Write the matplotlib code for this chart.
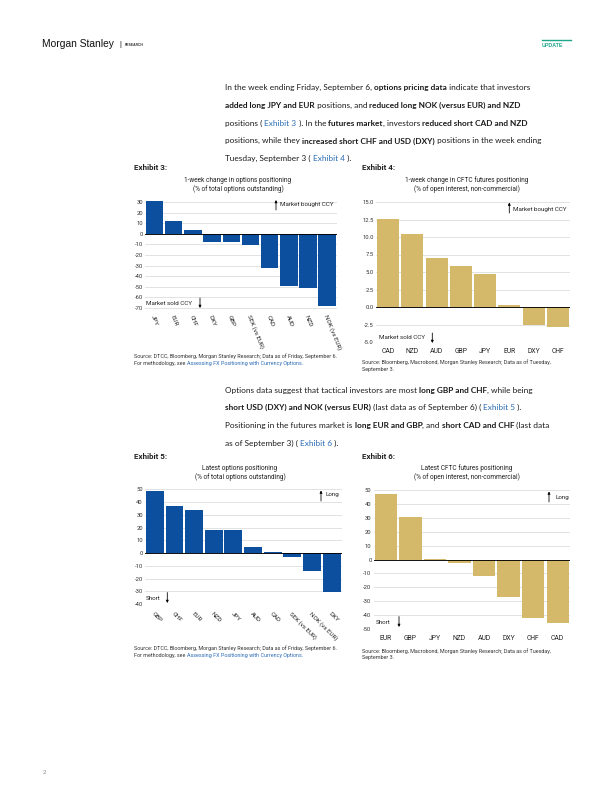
import matplotlib
matplotlib.use('Agg')
import matplotlib.pyplot as plt
from matplotlib.lines import Line2D
from matplotlib.patches import FancyArrowPatch

# ---------------- data ----------------
ex3_cats = ['JPY', 'EUR', 'CHF', 'DXY', 'GBP', 'SEK (vs EUR)', 'CAD', 'AUD', 'NZD', 'NOK (vs EUR)']
ex3_vals = [30.5, 12.3, 3.5, -7.5, -7.5, -10.4, -32.0, -49.0, -51.0, -68.0]
ex3_ticks = [-70, -60, -50, -40, -30, -20, -10, 0, 10, 20, 30]

ex4_cats = ['CAD', 'NZD', 'AUD', 'GBP', 'JPY', 'EUR', 'DXY', 'CHF']
ex4_vals = [12.6, 10.4, 7.0, 5.9, 4.7, 0.33, -2.6, -2.9]
ex4_ticks = [-5.0, -2.5, 0.0, 2.5, 5.0, 7.5, 10.0, 12.5, 15.0]

ex5_cats = ['GBP', 'CHF', 'EUR', 'NZD', 'JPY', 'AUD', 'CAD', 'SEK (vs EUR)', 'NOK (vs EUR)', 'DXY']
ex5_vals = [48.4, 37.2, 34.0, 18.0, 17.8, 4.7, 0.5, -3.4, -14.4, -30.4]
ex5_ticks = [-40, -30, -20, -10, 0, 10, 20, 30, 40, 50]

ex6_cats = ['EUR', 'GBP', 'JPY', 'NZD', 'AUD', 'DXY', 'CHF', 'CAD']
ex6_vals = [46.9, 30.9, 0.5, -2.6, -12.0, -27.0, -42.3, -45.7]
ex6_ticks = [-50, -40, -30, -20, -10, 0, 10, 20, 30, 40, 50]

BLUE = '#0b4f9e'
GOLD = '#d4b96a'
LINK = '#2b6cb5'
TXT = '#1a1a1a'
CHART_FONT = 'Roboto'
BODY_FONT = 'Lato'

TICK_FS = 5.9
CAT_FS = 6.8
CAT_ROT_FS = 6.3
TITLE_FS = 6.5
NOTE_FS = 6.2
SRC_FS = 5.4
EXH_FS = 8.0
BODY_FS = 8.2

W, H = 612, 792
fig = plt.figure(figsize=(W / 72, H / 72), dpi=72)
renderer = fig.canvas.get_renderer()


def fx(x):
    return x / W


def fy(y):
    return 1 - y / H


def text_w(s, **kw):
    t = fig.text(0, 0, '|' + s + '|', **kw)
    w1 = t.get_window_extent(renderer).width
    t.set_text('||')
    w2 = t.get_window_extent(renderer).width
    t.remove()
    return w1 - w2


def rich_line(x, y, segs, size=8, family=BODY_FONT):
    cur = x
    for s, st in segs:
        kw = dict(fontsize=size, family=family)
        if st == 'b':
            kw['fontweight'] = 'bold'
        col = LINK if st == 'l' else TXT
        fig.text(fx(cur), fy(y), s, color=col, va='baseline', ha='left', **kw)
        cur += text_w(s, **kw)


def chart(left, right, top, bottom, ylim, cats, vals, color, ticks, fmt):
    ax = fig.add_axes([fx(left), fy(bottom), (right - left) / W, (bottom - top) / H])
    xs = list(range(len(cats)))
    ax.bar(xs, vals, width=0.91, color=color, zorder=2)
    ax.set_xlim(-0.5, len(cats) - 0.5)
    ax.set_ylim(*ylim)
    ax.set_yticks(ticks)
    ax.set_yticklabels([fmt.format(t) for t in ticks], family=CHART_FONT)
    ax.yaxis.grid(True, color='#cfcfcf', lw=0.6, zorder=0)
    ax.set_axisbelow(True)
    ax.axhline(0, color='black', lw=0.9, zorder=3)
    for s in ax.spines.values():
        s.set_visible(False)
    ax.tick_params(axis='y', length=0, pad=2, labelsize=TICK_FS, labelcolor='#333333')
    ax.set_xticks([])
    ax.patch.set_alpha(0)
    return ax, xs


def cat_labels(ax, xs, cats, top, bottom, ypix, rot):
    yf = (bottom - ypix) / (bottom - top)
    for x, c in zip(xs, cats):
        if rot == 0:
            ax.text(x, yf, c, transform=ax.get_xaxis_transform(), ha='center', va='center',
                    fontsize=CAT_FS, family=CHART_FONT, color='#222222', clip_on=False)
        else:
            ax.text(x - 0.1, yf, c, transform=ax.get_xaxis_transform(), ha='left', va='center',
                    rotation=rot, rotation_mode='anchor', fontsize=CAT_ROT_FS, family=CHART_FONT,
                    color='#222222', clip_on=False)


def arrow(x, y0, y1):
    fig.add_artist(FancyArrowPatch(
        (fx(x), fy(y0)), (fx(x), fy(y1)), transform=fig.transFigure,
        arrowstyle='-|>', mutation_scale=5, lw=0.8, color='black', shrinkA=0, shrinkB=0))


def ftext(x, y, s, size, **kw):
    kw.setdefault('family', CHART_FONT)
    kw.setdefault('color', '#222222')
    kw.setdefault('va', 'center')
    kw.setdefault('ha', 'left')
    fig.text(fx(x), fy(y), s, fontsize=size, **kw)


def source(x, y, lines, link=None):
    for i, ln in enumerate(lines):
        ftext(x, y + i * 7, ln, SRC_FS, color='#333333')
    if link:
        ln = lines[-1]
        ftext(x + text_w(ln, fontsize=SRC_FS, family=CHART_FONT), y + (len(lines) - 1) * 7,
              link, SRC_FS, color=LINK)


# ---------------- header ----------------
ftext(41.5, 44, 'Morgan Stanley', 10.3, family='Liberation Sans', color='#111111')
ftext(119, 44.5, '|', 7.5, family='Liberation Sans', color='#111111')
ftext(124.5, 44.5, 'RESEARCH', 3.4, family='Liberation Sans', fontweight='bold', color='#333333')
fig.add_artist(Line2D([fx(542), fx(571)], [fy(40), fy(40)], color='#1fa589', lw=1.4))
ftext(542, 45.5, 'UPDATE', 5.3, family='Liberation Sans', fontweight='bold', color='#1fa589')
ftext(43, 772, '2', 6, color='#888888')

# ---------------- paragraph 1 ----------------
p1 = [
    [('In the week ending Friday, September 6, ', 'n'), ('options pricing data', 'b'),
     (' indicate that investors', 'n')],
    [('added long JPY and EUR', 'b'), (' positions, and ', 'n'),
     ('reduced long NOK (versus EUR) and NZD', 'b')],
    [('positions ( ', 'n'), ('Exhibit 3', 'l'), (' ). In the ', 'n'), ('futures market', 'b'),
     (', investors ', 'n'), ('reduced short CAD and NZD', 'b')],
    [('positions, while they ', 'n'), ('increased short CHF and USD (DXY)', 'b'),
     (' positions in the week ending', 'n')],
    [('Tuesday, September 3 ( ', 'n'), ('Exhibit 4', 'l'), (' ).', 'n')],
]
for i, segs in enumerate(p1):
    rich_line(225, 90 + i * 17.8, segs, size=BODY_FS)

p2 = [
    [('Options data suggest that tactical investors are most ', 'n'), ('long GBP and CHF', 'b'),
     (', while being', 'n')],
    [('short USD (DXY) and NOK (versus EUR)', 'b'), (' (last data as of September 6) ( ', 'n'),
     ('Exhibit 5', 'l'), (' ).', 'n')],
    [('Positioning in the futures market is ', 'n'), ('long EUR and GBP', 'b'), (', and ', 'n'),
     ('short CAD and CHF', 'b'), (' (last data', 'n')],
    [('as of September 3) ( ', 'n'), ('Exhibit 6', 'l'), (' ).', 'n')],
]
for i, segs in enumerate(p2):
    rich_line(225, 392.5 + i * 17.7, segs, size=BODY_FS)

# ---------------- Exhibit 3 ----------------
ftext(134, 167.5, 'Exhibit 3:', EXH_FS, fontweight='bold')
ftext(238, 180.5, '1-week change in options positioning', TITLE_FS, ha='center')
ftext(238, 189, '(% of total options outstanding)', TITLE_FS, ha='center')
t3, b3 = 200.9, 309.1
ax3, xs3 = chart(145, 336.8, t3, b3, (-71, 31), ex3_cats, ex3_vals, BLUE, ex3_ticks, '{:d}')
cat_labels(ax3, xs3, ex3_cats, t3, b3, 315, -68)
arrow(276, 210, 200)
ftext(280.5, 204.7, 'Market bought CCY', NOTE_FS)
ftext(146, 303.3, 'Market sold CCY', NOTE_FS)
arrow(200, 298, 308)
source(134, 356.5, ['Source: DTCC, Bloomberg, Morgan Stanley Research; Data as of Friday, September 6.',
                    'For methodology, see '], 'Assessing FX Positioning with Currency Options.')

# ---------------- Exhibit 4 ----------------
ftext(362, 167.5, 'Exhibit 4:', EXH_FS, fontweight='bold')
ftext(467, 180.5, '1-week change in CFTC futures positioning', TITLE_FS, ha='center')
ftext(467, 189, '(% of open interest, non-commercial)', TITLE_FS, ha='center')
t4, b4 = 202, 342
ax4, xs4 = chart(376, 570, t4, b4, (-5, 15), ex4_cats, ex4_vals, GOLD, ex4_ticks, '{:.1f}')
cat_labels(ax4, xs4, ex4_cats, t4, b4, 351.7, 0)
arrow(509.3, 213, 202.5)
ftext(512.7, 209, 'Market bought CCY', NOTE_FS)
ftext(379, 337.3, 'Market sold CCY', NOTE_FS)
arrow(432.3, 333, 343)
source(362, 362.3, ['Source: Bloomberg, Macrobond, Morgan Stanley Research; Data as of Tuesday,',
                    'September 3.'])

# ---------------- Exhibit 5 ----------------
ftext(134, 456, 'Exhibit 5:', EXH_FS, fontweight='bold')
ftext(240, 468.5, 'Latest options positioning', TITLE_FS, ha='center')
ftext(240, 477.5, '(% of total options outstanding)', TITLE_FS, ha='center')
t5, b5 = 489.3, 604
ax5, xs5 = chart(145, 341.5, t5, b5, (-40, 50), ex5_cats, ex5_vals, BLUE, ex5_ticks, '{:d}')
cat_labels(ax5, xs5, ex5_cats, t5, b5, 613, -45)
arrow(321, 501, 490.5)
ftext(325.3, 494.3, 'Long', NOTE_FS)
ftext(146, 598.3, 'Short', NOTE_FS)
arrow(167.3, 592.5, 603)
source(134, 648, ['Source: DTCC, Bloomberg, Morgan Stanley Research; Data as of Friday, September 6.',
                  'For methodology, see '], 'Assessing FX Positioning with Currency Options.')

# ---------------- Exhibit 6 ----------------
ftext(362, 456, 'Exhibit 6:', EXH_FS, fontweight='bold')
ftext(467, 468.5, 'Latest CFTC futures positioning', TITLE_FS, ha='center')
ftext(467, 477.5, '(% of open interest, non-commercial)', TITLE_FS, ha='center')
t6, b6 = 490, 629
ax6, xs6 = chart(373.5, 570, t6, b6, (-50, 50), ex6_cats, ex6_vals, GOLD, ex6_ticks, '{:d}')
cat_labels(ax6, xs6, ex6_cats, t6, b6, 639, 0)
arrow(549, 502, 491.5)
ftext(555, 497.7, 'Long', NOTE_FS)
ftext(375.7, 623, 'Short', NOTE_FS)
arrow(399, 616.5, 627)
source(362, 651, ['Source: Bloomberg, Macrobond, Morgan Stanley Research; Data as of Tuesday,',
                  'September 3.'])

fig.savefig('out.png', dpi=72)
